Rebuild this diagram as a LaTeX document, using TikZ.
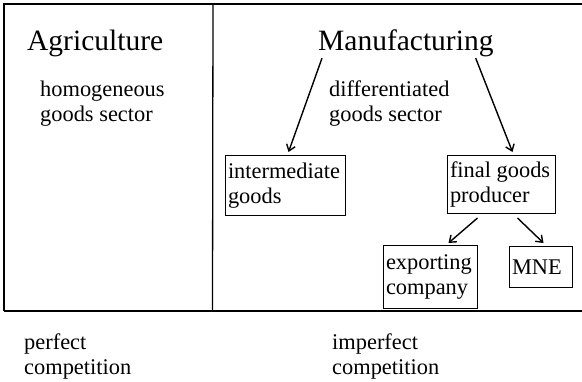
\documentclass[tikz,border=0pt]{standalone}
\usepackage{fontspec}
\setmainfont{Liberation Serif}
\usetikzlibrary{arrows.meta,calc}
\begin{document}
\begin{tikzpicture}[x=1pt,y=-1pt,
  lbl/.style={inner sep=0pt, anchor=base west, font=\fontsize{22.4}{25}\selectfont, align=left},
  ttl/.style={inner sep=0pt, anchor=base west, font=\fontsize{29.5}{32}\selectfont},
  box/.style={draw, line width=1pt, anchor=north west, inner xsep=2.5pt, inner ysep=0pt, align=flush left, font=\fontsize{22.4}{25}\selectfont},
  arr/.style={line width=1.4pt, -{Straight Barb[length=6pt,width=9pt,line width=1.4pt]}},
  frameline/.style={line width=1.3pt}]
\useasboundingbox (0,0) rectangle (582,381);
\fill[white] (0,0) rectangle (582,381);
% frame
\draw[frameline] (582,4) -- (4,4) -- (4,311);
\draw[line width=1.8pt] (4,311) -- (582,311);
\draw[frameline] (213,4) -- (212.5,311);
% titles and labels (base anchor = last line)
\node[ttl] (agri) at (27,50) {Agriculture};
\node[ttl] (manu) at (318,50) {Manufacturing};
\node[lbl] (homo) at (40,121) {homogeneous\\goods sector};
\node[lbl] (diff) at (329,121) {differentiated\\goods sector};
\node[lbl] (perf) at (24,374) {perfect\\competition};
\node[lbl] (imperf) at (332,374) {imperfect\\competition};
% boxes
\node[box, text width=115pt, minimum height=60pt] (inter) at (225,155) {intermediate\\goods};
\node[box, text width=103pt, minimum height=58pt] (final) at (447,155) {final goods\\producer};
\node[box, text width=89pt, minimum height=63pt] (export) at (383,245) {exporting\\company};
\node[box, text width=58pt, minimum height=41pt] (mne) at (509,246) {MNE};
% arrows
\draw[arr] ($(manu.south west)+(4,1.6)$) -- ($(inter.north)+(3,-3)$);
\draw[arr] ($(manu.south east)+(-18,1.6)$) -- ($(final.north)+(11,-3)$);
\draw[arr] ($(final.south)+(-24,4)$) -- ($(export.north)+(18,-2)$);
\draw[arr] ($(final.south)+(16,4)$) -- ($(mne.north)+(2.5,-3)$);
\end{tikzpicture}
\end{document}
